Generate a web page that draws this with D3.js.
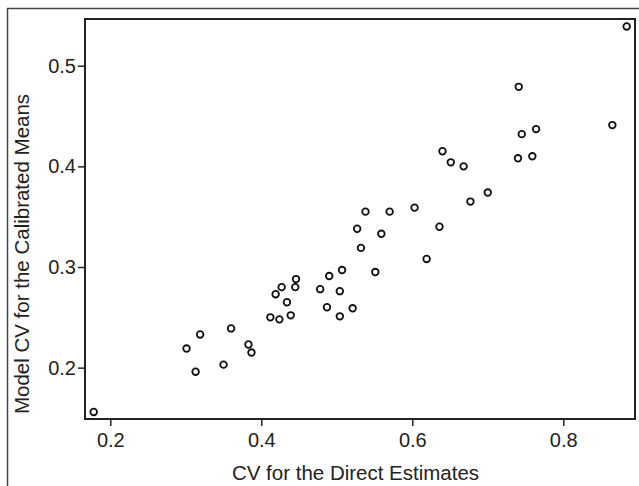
<!DOCTYPE html>
<html>
<head>
<meta charset="utf-8">
<script src="https://cdn.jsdelivr.net/npm/d3@7"></script>
<style>
  body { margin: 0; background: #fff; }
  svg { display: block; }
</style>
</head>
<body>
<div id="chart"></div>
<script>
// values
let directCV = [0.178, 0.301, 0.313, 0.319, 0.350, 0.360, 0.383, 0.387, 0.412, 0.424,
	0.419, 0.427, 0.434, 0.439, 0.446, 0.445, 0.478, 0.490, 0.507, 0.504,
	0.487, 0.504, 0.521, 0.538, 0.570, 0.603, 0.677, 0.700, 0.527, 0.559,
	0.636, 0.532, 0.619, 0.551, 0.640, 0.651, 0.668, 0.741, 0.745, 0.764,
	0.740, 0.759, 0.865, 0.884];
let modelCV = [0.156, 0.219, 0.196, 0.233, 0.203, 0.239, 0.223, 0.215, 0.250, 0.248,
	0.273, 0.280, 0.265, 0.252, 0.288, 0.280, 0.278, 0.291, 0.297, 0.276,
	0.260, 0.251, 0.259, 0.355, 0.355, 0.359, 0.365, 0.374, 0.338, 0.333,
	0.340, 0.319, 0.308, 0.295, 0.415, 0.404, 0.400, 0.479, 0.432, 0.437,
	0.408, 0.410, 0.441, 0.539];
let xTicks = [0.2, 0.4, 0.6, 0.8];
let yTicks = [0.2, 0.3, 0.4, 0.5];

let points = directCV.map((d, i) => ({ x: d, y: modelCV[i] }));

let W = 639, H = 486;
let margin = { top: 19, right: 4, bottom: 67, left: 85 };
let width = W - margin.left - margin.right;
let height = H - margin.top - margin.bottom;

let svg = d3.select("#chart").append("svg")
	.attr("width", W)
	.attr("height", H)
	.attr("font-family", "'Liberation Sans', Arial, sans-serif");

// outer frame (runs off the right and bottom edges)
svg.append("rect")
	.attr("x", 7.5)
	.attr("y", 8.5)
	.attr("width", W + 20)
	.attr("height", H + 20)
	.attr("fill", "none")
	.attr("stroke", "#444")
	.attr("stroke-width", 1.5);

let g = svg.append("g")
	.attr("transform", "translate(" + margin.left + "," + margin.top + ")");

let x = d3.scaleLinear().domain([0.1665, 0.895]).range([0, width]);
let y = d3.scaleLinear().domain([0.149, 0.5464]).range([height, 0]);

let xAxis = g.append("g")
	.attr("transform", "translate(0," + height + ")")
	.call(d3.axisBottom(x).tickValues(xTicks).tickFormat(d3.format(".1f")).tickSize(7).tickPadding(7));

let yAxis = g.append("g")
	.call(d3.axisLeft(y).tickValues(yTicks).tickFormat(d3.format(".1f")).tickSize(7).tickPadding(2));

[xAxis, yAxis].forEach(a => {
	a.select(".domain").remove();
	a.selectAll("line").attr("stroke", "#222").attr("stroke-width", 1.5);
	a.selectAll("text")
		.attr("fill", "#222")
		.attr("font-size", 20)
		.attr("font-family", "'Liberation Sans', Arial, sans-serif");
});

// plot frame
g.append("rect")
	.attr("width", width)
	.attr("height", height)
	.attr("fill", "none")
	.attr("stroke", "#222")
	.attr("stroke-width", 2);

g.selectAll(".pt")
	.data(points)
	.enter()
	.append("circle")
	.attr("class", "pt")
	.attr("cx", d => x(d.x))
	.attr("cy", d => y(d.y))
	.attr("r", 3.3)
	.attr("fill", "none")
	.attr("stroke", "#111")
	.attr("stroke-width", 1.8);

// axis titles
svg.append("text")
	.attr("x", 355.5)
	.attr("y", 480)
	.attr("text-anchor", "middle")
	.attr("font-size", 20.5)
	.attr("fill", "#222")
	.text("CV for the Direct Estimates");

svg.append("text")
	.attr("transform", "translate(29,254) rotate(-90)")
	.attr("text-anchor", "middle")
	.attr("font-size", 20.5)
	.attr("fill", "#222")
	.text("Model CV for the Calibrated Means");
</script>
</body>
</html>
